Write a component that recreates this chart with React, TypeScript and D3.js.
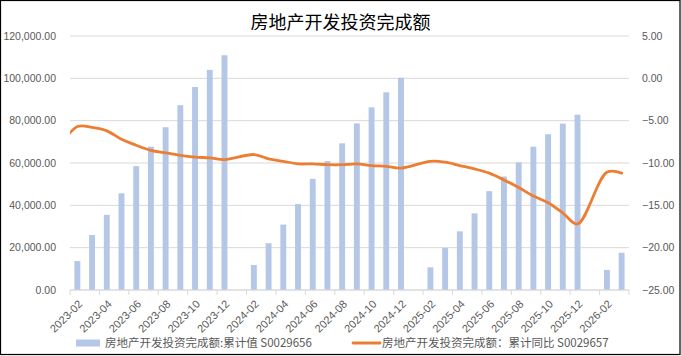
import React from "react";
import * as d3 from "d3";

const months: string[] = [
  "2023-02","2023-03","2023-04","2023-05","2023-06","2023-07","2023-08","2023-09","2023-10","2023-11","2023-12",
  "2024-01","2024-02","2024-03","2024-04","2024-05","2024-06","2024-07","2024-08","2024-09","2024-10","2024-11","2024-12",
  "2025-01","2025-02","2025-03","2025-04","2025-05","2025-06","2025-07","2025-08","2025-09","2025-10","2025-11","2025-12",
  "2026-01","2026-02","2026-03",
];

// 房地产开发投资完成额:累计值 (left axis)
const cumValue: (number | null)[] = [
  13700, 26000, 35500, 45700, 58500, 67700, 76900, 87300, 95900, 104000, 110900,
  null, 11800, 22100, 30900, 40600, 52500, 60900, 69300, 78700, 86300, 93400, 100300,
  null, 10700, 19900, 27700, 36200, 46700, 53600, 60300, 67700, 73600, 78600, 82800,
  null, 9500, 17600,
];

// 房地产开发投资完成额：累计同比 (right axis)
const cumYoY: (number | null)[] = [
  -5.7, -5.8, -6.2, -7.2, -7.9, -8.5, -8.8, -9.1, -9.3, -9.4, -9.6,
  null, -9.0, -9.5, -9.8, -10.1, -10.1, -10.2, -10.2, -10.1, -10.3, -10.4, -10.6,
  null, -9.8, -9.9, -10.3, -10.7, -11.2, -12.0, -12.9, -13.9, -14.7, -15.9, -17.2,
  null, -11.1, -11.2,
];

// point preceding the visible range (drawn, clipped by the plot area)
const priorMonths: string[] = ["2022-12"];
const priorYoY: number[] = [-10.0];

const tickLabels: string[] = [
  "2023-02","2023-04","2023-06","2023-08","2023-10","2023-12",
  "2024-02","2024-04","2024-06","2024-08","2024-10","2024-12",
  "2025-02","2025-04","2025-06","2025-08","2025-10","2025-12",
  "2026-02",
];

const leftTicks: number[] = [0, 20000, 40000, 60000, 80000, 100000, 120000];
const rightTicks: number[] = [5, 0, -5, -10, -15, -20, -25];

const title = "房地产开发投资完成额";
const legendBar = "房地产开发投资完成额:累计值 S0029656";
const legendLine = "房地产开发投资完成额：累计同比 S0029657";

const W = 681, H = 356;
const L = 70, R = 629, T = 36, B = 290;

const monthIndex = (s: string) => {
  const [y, m] = s.split("-").map(Number);
  return (y - 2023) * 12 + (m - 2);
};

export default function App() {
  const x = d3.scaleLinear().domain([0, months.length]).range([L, R]);
  const step = x(1) - x(0);
  const cx = (s: string) => x(monthIndex(s) + 0.5);
  const yL = d3.scaleLinear().domain([0, 120000]).range([B, T]);
  const yR = d3.scaleLinear().domain([-25, 5]).range([B, T]);
  const barW = step / 2.5;

  const linePts: [number, number][] = [];
  priorMonths.forEach((m, i) => linePts.push([cx(m), yR(priorYoY[i])]));
  months.forEach((m, i) => {
    const v = cumYoY[i];
    if (v != null) linePts.push([cx(m), yR(v)]);
  });
  const linePath = d3.line().curve(d3.curveCatmullRom.alpha(0.5))(linePts) || "";

  const numFont = "'Liberation Sans', Arial, sans-serif";
  const cjkFont = "'Noto Sans CJK SC', 'Noto Sans', sans-serif";
  const gray = "#595959";
  const fmt = d3.format(",.2f");

  const majorTicks = d3.range(0, months.length + 1, 2);

  return (
    <svg width={W} height={H} style={{ position: "absolute", left: 0, top: 0, background: "#fff" }}>
      <defs>
        <clipPath id="plot">
          <rect x={L} y={0} width={R - L} height={H} />
        </clipPath>
      </defs>
      <rect x={0} y={0} width={W} height={H} fill="#fff" />
      <rect x={0.5} y={0.5} width={W - 1.5} height={H - 2} fill="none" stroke="#000" strokeWidth={1.2} />

      <text x={W / 2} y={29} textAnchor="middle" fontFamily={cjkFont} fontSize={18} fill="#000">
        {title}
      </text>

      {leftTicks.map((t) => (
        <line key={"g" + t} x1={L} x2={R} y1={yL(t)} y2={yL(t)} stroke="#d9d9d9" strokeWidth={1} />
      ))}

      {leftTicks.map((t) => (
        <text key={"l" + t} x={56} y={yL(t)} dy="0.35em" textAnchor="end" fontFamily={numFont} fontSize={10.5} fill={gray}>
          {fmt(t)}
        </text>
      ))}
      {rightTicks.map((t) => (
        <text key={"r" + t} x={642} y={yR(t)} dy="0.35em" textAnchor="start" fontFamily={numFont} fontSize={10.5} fill={gray}>
          {d3.format(".2f")(t)}
        </text>
      ))}

      {months.map((m, i) => {
        const v = cumValue[i];
        if (v == null) return null;
        return (
          <rect key={"b" + m} x={cx(m) - barW / 2} y={yL(v)} width={barW} height={yL(0) - yL(v)} fill="#B4C7E7" />
        );
      })}

      <line x1={L} x2={R} y1={B} y2={B} stroke="#d9d9d9" strokeWidth={1} />
      {majorTicks.map((i) => (
        <line key={"t" + i} x1={x(i)} x2={x(i)} y1={B} y2={B + 5} stroke="#d9d9d9" strokeWidth={1} />
      ))}

      <path d={linePath} fill="none" stroke="#ED7D31" strokeWidth={2.8} strokeLinecap="round" clipPath="url(#plot)" />

      {tickLabels.map((lab) => (
        <text
          key={"x" + lab}
          transform={`translate(${cx(lab) + 3},${B + 12}) rotate(-45)`}
          textAnchor="end"
          dy="0.35em"
          fontFamily={numFont}
          fontSize={11}
          fill={gray}
        >
          {lab}
        </text>
      ))}

      <rect x={76} y={339.5} width={24} height={7} fill="#B4C7E7" />
      <text x={105} y={343} dy="0.35em" fontFamily={cjkFont} fontSize={11.5} fill={gray}>
        {legendBar}
      </text>
      <line x1={353} x2={380} y1={343} y2={343} stroke="#ED7D31" strokeWidth={2.8} strokeLinecap="round" />
      <text x={382} y={343} dy="0.35em" fontFamily={cjkFont} fontSize={11.5} fill={gray}>
        {legendLine}
      </text>
    </svg>
  );
}
